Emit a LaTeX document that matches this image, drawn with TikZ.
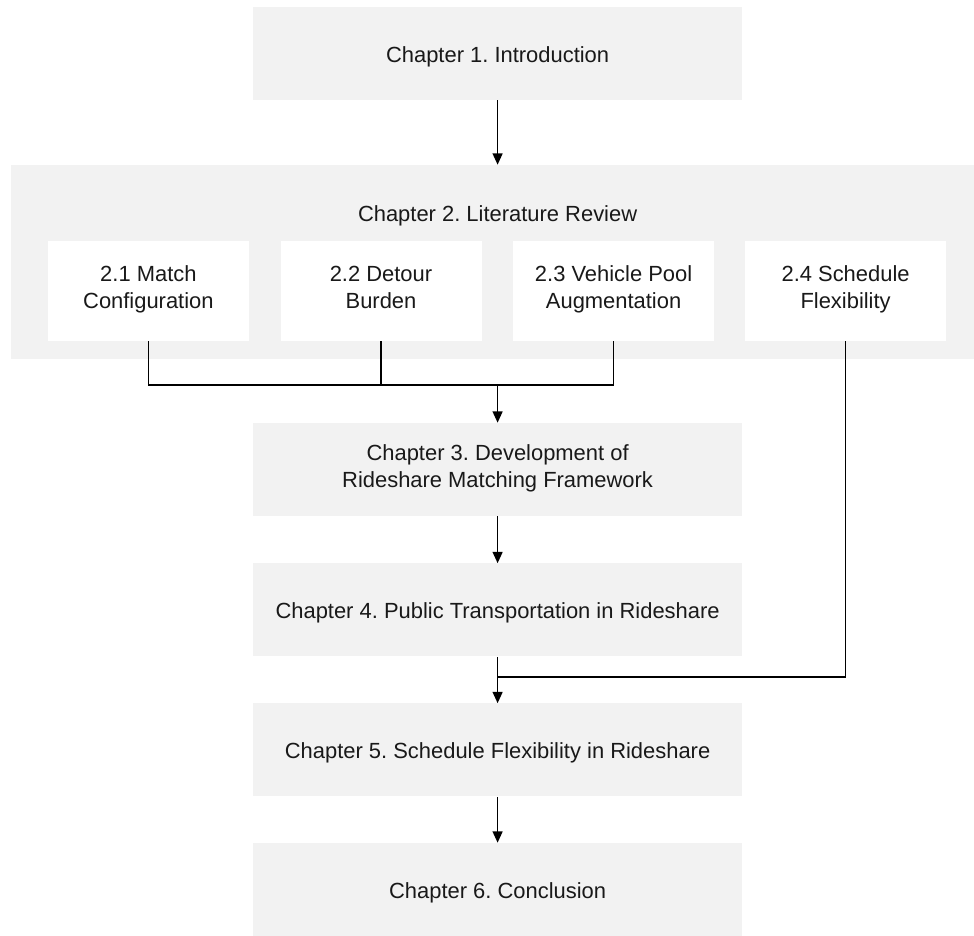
\documentclass[tikz,border=0pt]{standalone}
\usepackage{fontspec}
\setmainfont{Liberation Sans}
\usetikzlibrary{arrows.meta}
\definecolor{boxgrey}{HTML}{F2F2F2}
\frenchspacing
\tikzset{
    every node/.style={rectangle, fill=boxgrey, draw=none, inner sep=0pt,
    	align=center, text=black!90, font=\fontsize{15.6}{19.2}\selectfont,
    	execute at begin node=\rule{0pt}{1.1em},
    	execute at end node=\rule[-0.32em]{0pt}{0pt}}
}
\tikzset{
    chap/.style={minimum width=12.225cm, minimum height=2.325cm},
    twoline/.style={execute at begin node=\rule{0pt}{1.5em}},
    sub/.style={fill=white, minimum width=5.025cm, minimum height=2.5cm, twoline}
}
\tikzset{
	link/.style={line width=1.1pt},
	arr/.style={link, -{Triangle[width=7pt,length=8pt]}}
}

\begin{document}
\begin{tikzpicture}
	\useasboundingbox (0cm, 0cm) rectangle (24.35cm, 23.4cm);
	\node (1) [chap] at (12.44cm, 22.06cm) {Chapter 1. Introduction};
	\node (2) [minimum width=24.075cm, minimum height=4.85cm] at (12.31cm, 16.85cm) {};
	\node (2t) [fill=none] at (12.44cm, 18.075cm) {Chapter 2. Literature Review};
	\node (21) [sub] at (3.71cm, 16.125cm) {2.1 Match\\Configuration};
	\node (22) [sub] at (9.525cm, 16.125cm) {2.2 Detour\\Burden};
	\node (23) [sub] at (15.34cm, 16.125cm) {2.3 Vehicle Pool\\Augmentation};
	\node (24) [sub] at (21.14cm, 16.125cm) {2.4 Schedule\\Flexibility};
	\node (3) [chap, twoline] at (12.44cm, 11.6625cm) {Chapter 3. Development of\\Rideshare Matching Framework};
	\node (4) [chap] at (12.44cm, 8.15cm) {Chapter 4. Public Transportation in Rideshare};
	\node (5) [chap] at (12.44cm, 4.65cm) {Chapter 5. Schedule Flexibility in Rideshare};
	\node (6) [chap] at (12.44cm, 1.1625cm) {Chapter 6. Conclusion};
	\coordinate (j1) at (12.44cm, 13.775cm);
	\coordinate (j2) at (12.44cm, 6.475cm);
	
	\draw[arr] (1.south) -- (1.south |- 2.north);
	
	\draw[link] (21.south) -- (21.south |- j1) -- (23.south |- j1) -- (23.south);
	\draw[link] (22.south) -- (22.south |- j1);
	\draw[arr] (j1) -- (3.north);
	
	\draw[arr] (3.south) -- (4.north);
	\draw[link] (24.south) |- (j2);
	\draw[arr] (4.south) -- (5.north);
	\draw[arr] (5.south) -- (6.north);
\end{tikzpicture}
\end{document}
